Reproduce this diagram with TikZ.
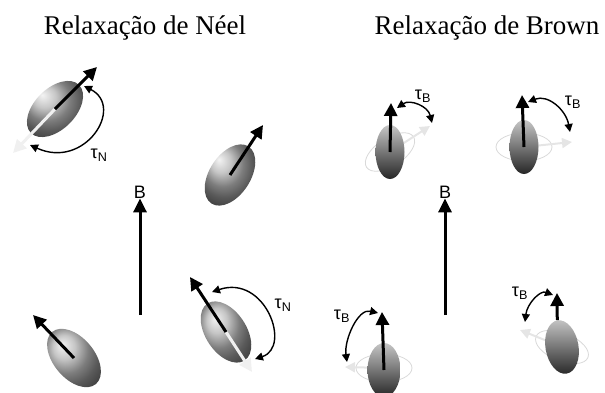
\documentclass[tikz,border=0pt]{standalone}
\usepackage{fontspec}
\setmainfont{Liberation Serif}
\setsansfont{Liberation Sans}
\usetikzlibrary{shapes.geometric, arrows.meta}
\tikzstyle{title} = [
    font=\fontsize{27}{27}\selectfont
]
\tikzstyle{lbl} = [
    font=\sffamily\fontsize{18}{18}\selectfont,
    inner sep=0pt
]
\tikzstyle{neelgrain} = [
    ellipse,
    minimum width=68pt,
    minimum height=41pt,
    inner sep=0pt,
    ball color=gray!60
]
\tikzstyle{browngrain} = [
    ellipse,
    minimum width=29pt,
    minimum height=54pt,
    inner sep=0pt,
    top color=gray!45,
    bottom color=black!85
]
\tikzstyle{ghost} = [
    ellipse,
    minimum width=56pt,
    minimum height=28pt,
    inner sep=0pt,
    draw=gray!30,
    line width=0.8pt
]
\tikzstyle{spin} = [line width=3pt,-{Triangle[length=13pt,width=13pt]}]
\tikzstyle{flip} = [line width=3pt,gray!12,-{Triangle[length=13pt,width=13pt]}]
\tikzstyle{shade} = [line width=2pt,gray!20,-{Triangle[length=10pt,width=10pt]}]
\tikzstyle{tau} = [line width=1.4pt,{Triangle[length=8pt,width=8pt]}-{Triangle[length=8pt,width=8pt]}]
\tikzstyle{field} = [line width=3pt,-{Triangle[length=14pt,width=13pt]}]

\begin{document}
\begin{tikzpicture}[x=1pt,y=1pt]
\useasboundingbox (0,0) rectangle (605,392);

\node (neeltitle) [title] at (145,364) {Relaxação de Néel};
\node (browntitle) [title] at (487,364) {Relaxação de Brown};

% Neel side
\node (n1) [neelgrain, rotate=45] at (55,283) {};
\coordinate (n1s) at (97,325);
\coordinate (n1f) at (13,239);
\draw [flip] (n1.center) -- (n1f);
\draw [spin] (n1.center) -- (n1s);
\coordinate (n1a) at (84,306);
\coordinate (n1b) at (30,247);
\draw [tau] (n1a) .. controls (125,285) and (85,222) .. (n1b);
\node (tn1) [lbl] at (99,237) {τ\textsubscript{N}};

\node (n2) [neelgrain, rotate=57] at (230,217) {};
\coordinate (n2s) at (263,267);
\draw [spin] (n2.center) -- (n2s);

\node (n3) [neelgrain, rotate=130] at (74,34) {};
\coordinate (n3s) at (33,77);
\draw [spin] (n3.center) -- (n3s);

\node (n4) [neelgrain, rotate=123] at (226,60) {};
\coordinate (n4s) at (190,115);
\coordinate (n4f) at (252,20);
\draw [flip] (n4.center) -- (n4f);
\draw [spin] (n4.center) -- (n4s);
\coordinate (n4a) at (212,100);
\coordinate (n4b) at (255,33);
\draw [tau] (n4a) .. controls (265,118) and (292,45) .. (n4b);
\node (tn4) [lbl] at (283,87) {τ\textsubscript{N}};

\node (bn) [lbl] at (140,200) {B};
\coordinate (bn0) at (140,77);
\draw [field] (bn0) -- (bn.south);

% Brown side
\node (g1) [ghost, rotate=33] at (390,240) {};
\coordinate (g1s) at (430,266);
\draw [shade] (g1.center) -- (g1s);
\node (b1) [browngrain] at (390,240) {};
\coordinate (b1s) at (391,289);
\draw [spin] (b1.center) -- (b1s);
\coordinate (b1a) at (397,284);
\coordinate (b1b) at (432,269);
\draw [tau] (b1a) .. controls (410,293) and (428,286) .. (b1b);
\node (tb1) [lbl] at (423,296) {τ\textsubscript{B}};

\node (g2) [ghost] at (524,245) {};
\coordinate (g2s) at (572,250);
\draw [shade] (g2.center) -- (g2s);
\node (b2) [browngrain] at (524,245) {};
\coordinate (b2s) at (522,297);
\draw [spin] (b2.center) -- (b2s);
\coordinate (b2a) at (528,290);
\coordinate (b2b) at (570,260);
\draw [tau] (b2a) .. controls (548,298) and (566,282) .. (b2b);
\node (tb2) [lbl] at (573,290) {τ\textsubscript{B}};

\node (g3) [ghost] at (384,24) {};
\coordinate (g3s) at (345,25);
\draw [shade] (g3.center) -- (g3s);
\node (b3) [browngrain, minimum width=33pt] at (384,22) {};
\coordinate (b3s) at (382,80);
\draw [spin] (b3.center) -- (b3s);
\coordinate (b3a) at (378,79);
\coordinate (b3b) at (347,30);
\draw [tau] (b3a) .. controls (358,84) and (344,52) .. (b3b);
\node (tb3) [lbl] at (342,76) {τ\textsubscript{B}};

\node (g4) [ghost, rotate=158] at (562,45) {};
\coordinate (g4s) at (520,62);
\draw [shade] (g4.center) -- (g4s);
\node (b4) [browngrain, minimum width=33pt, rotate=10] at (562,45) {};
\coordinate (b4s) at (557,99);
\draw [spin] (b4.north) -- (b4s);
\coordinate (b4a) at (553,97);
\coordinate (b4b) at (525,70);
\draw [tau] (b4a) .. controls (540,102) and (527,88) .. (b4b);
\node (tb4) [lbl] at (520,99) {τ\textsubscript{B}};

\node (bb) [lbl] at (445,200) {B};
\coordinate (bb0) at (445,77);
\draw [field] (bb0) -- (bb.south);

\end{tikzpicture}
\end{document}
